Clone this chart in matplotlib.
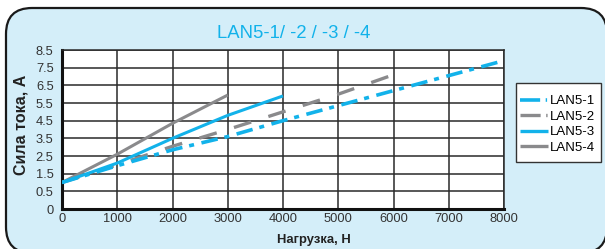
import matplotlib.pyplot as plt
import numpy as np
from matplotlib.patches import FancyBboxPatch, Rectangle
from matplotlib.transforms import IdentityTransform

plt.rcParams['font.family'] = ['Liberation Sans', 'DejaVu Sans']
plt.rcParams['lines.scale_dashes'] = False

# data (load in N, current in A)
load_1 = [0, 1000, 2000, 3000, 4000, 5000, 6000, 7000, 8000]
amps_1 = [1.0, 1.95, 2.85, 3.6, 4.5, 5.35, 6.2, 7.05, 7.9]
load_2 = [0, 1000, 2000, 3000, 4000, 5000, 6000]
amps_2 = [1.0, 2.0, 3.05, 4.0, 5.0, 6.0, 7.1]
load_3 = [0, 1000, 2000, 3000, 4000]
amps_3 = [1.0, 2.1, 3.5, 4.8, 5.9]
load_4 = [0, 1000, 2000, 3000]
amps_4 = [1.0, 2.6, 4.35, 5.95]

names = ['LAN5-1', 'LAN5-2', 'LAN5-3', 'LAN5-4']
y_ticks = [0, 0.5, 1.5, 2.5, 3.5, 4.5, 5.5, 6.5, 7.5, 8.5]
x_ticks = [0, 1000, 2000, 3000, 4000, 5000, 6000, 7000, 8000]

cyan = '#12b2ea'
gray = '#8a8a8c'


# y labels are evenly spaced even though the first step is only 0.5
def fwd(v):
    v = np.asarray(v, dtype=float)
    return np.where(v < 0.5, 2 * v, v + 0.5)


def inv(p):
    p = np.asarray(p, dtype=float)
    return np.where(p < 1, p / 2, p - 0.5)


fig = plt.figure(figsize=(6.05, 2.49), dpi=100)
px = IdentityTransform()

# rounded light blue panel
panel = FancyBboxPatch((6, -4), 601, 245, boxstyle="round,pad=0,rounding_size=26",
                       transform=px, facecolor='#d4eef9',
                       edgecolor='#1a1a1a', linewidth=1.6, zorder=-5)
fig.patches.append(panel)

ax = fig.add_axes([62 / 605, 1 - 209 / 249, 442 / 605, 159 / 249])
ax.set_facecolor('white')

ax.plot(load_4, amps_4, color=gray, lw=2.2, solid_capstyle='butt', zorder=3)
ax.plot(load_3, amps_3, color=cyan, lw=2.2, solid_capstyle='butt', zorder=4)
ax.plot(load_2, amps_2, color=gray, lw=2.4, dashes=[13, 13], zorder=3)
ax.plot(load_1, amps_1, color=cyan, lw=2.6, dashes=[12, 5, 3.6, 5.5], zorder=5)

ax.set_yscale('function', functions=(fwd, inv))
ax.set_xlim(0, 8000)
ax.set_ylim(0, 8.5)
ax.set_xticks(x_ticks)
ax.set_yticks(y_ticks)
ax.set_yticklabels([str(t) if t != 0 else '0' for t in y_ticks])
ax.minorticks_off()
ax.tick_params(length=0, labelsize=9.3, colors='#333333')
ax.tick_params(axis='y', pad=6)
ax.tick_params(axis='x', pad=3)
ax.grid(True, color='#2a2a2a', lw=1.1)
ax.set_axisbelow(True)
for s in ['top', 'right']:
    ax.spines[s].set_color('#2a2a2a')
    ax.spines[s].set_linewidth(1.1)
for s in ['left', 'bottom']:
    ax.spines[s].set_color('#111111')
    ax.spines[s].set_linewidth(2.2)

ax.set_xlabel('Нагрузка, Н', fontsize=9.4, fontweight='bold', color='#222222', va='center')
ax.xaxis.set_label_coords(0.57, -0.195)
ax.set_ylabel('Сила тока, А', fontsize=11.5, fontweight='bold', color='#222222', va='center')
ax.yaxis.set_label_coords(-0.093, 0.528)

fig.text(294 / 605, 1 - 33 / 249, 'LAN5-1/ -2 / -3 / -4', color=cyan, fontsize=13.3,
         ha='center', va='center')

# legend: separate frame box, handles drawn like the original (dash + small tick)
fig.patches.append(Rectangle((516, 87), 85, 79, transform=px, facecolor='white',
                             edgecolor='#333333', lw=1.0, zorder=4))
h1, = ax.plot([], [], color=cyan, lw=2.6, dashes=[14.5, 4, 1, 20])
h2, = ax.plot([], [], color=gray, lw=2.4, dashes=[14.5, 4, 1, 20])
h3, = ax.plot([], [], color=cyan, lw=2.4, solid_capstyle='butt')
h4, = ax.plot([], [], color=gray, lw=2.4, solid_capstyle='butt')
leg = fig.legend([h1, h2, h3, h4], names,
                 loc='upper left', bbox_to_anchor=(516 / 605, 1 - 91 / 249),
                 fontsize=9.5, frameon=False, handlelength=2.1, handletextpad=0.2,
                 borderpad=0.3, labelspacing=0.25, borderaxespad=0)
leg.set_zorder(5)

fig.savefig('out.png', dpi=100)
